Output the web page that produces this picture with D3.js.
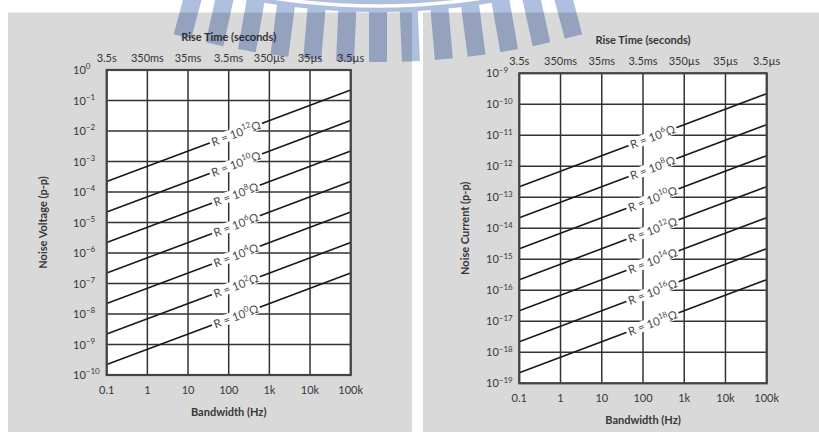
<!DOCTYPE html>
<html>
<head>
<meta charset="utf-8">
<script src="https://cdn.jsdelivr.net/npm/d3@7"></script>
<style>
  body { margin: 0; background: #ffffff; }
  svg { display: block; font-family: Lato, "Open Sans", sans-serif; }
</style>
</head>
<body>
<svg id="chart" width="819" height="432"></svg>
<script>
// Bandwidth decades shared by both panels (bottom axis) and matching rise times (top axis)
const bandwidthTicks = [0.1, 1, 10, 100, 1000, 10000, 100000];
const bandwidthLabels = ["0.1", "1", "10", "100", "1k", "10k", "100k"];
const riseTimeLabels = ["3.5s", "350ms", "35ms", "3.5ms", "350\u00b5s", "35\u00b5s", "3.5\u00b5s"];

// Left panel: peak-to-peak Johnson noise voltage
const voltageExponents = [0, -1, -2, -3, -4, -5, -6, -7, -8, -9, -10];
const voltageResistanceExp = [12, 10, 8, 6, 4, 2, 0];
const voltageAtLowBW = [2.2e-4, 2.2e-5, 2.2e-6, 2.2e-7, 2.2e-8, 2.2e-9, 2.2e-10];   // at 0.1 Hz
const voltageAtHighBW = [2.2e-1, 2.2e-2, 2.2e-3, 2.2e-4, 2.2e-5, 2.2e-6, 2.2e-7];   // at 100 kHz

// Right panel: peak-to-peak Johnson noise current
const currentExponents = [-9, -10, -11, -12, -13, -14, -15, -16, -17, -18, -19];
const currentResistanceExp = [6, 8, 10, 12, 14, 16, 18];
const currentAtLowBW = [2.2e-13, 2.2e-14, 2.2e-15, 2.2e-16, 2.2e-17, 2.2e-18, 2.2e-19];
const currentAtHighBW = [2.2e-10, 2.2e-11, 2.2e-12, 2.2e-13, 2.2e-14, 2.2e-15, 2.2e-16];

const svg = d3.select("#chart");
const textColor = "#363636";

// Grey panel backgrounds
svg.append("rect").attr("x", 8).attr("y", 12.5).attr("width", 404).attr("height", 420).attr("fill", "#d9d9d9");
svg.append("rect").attr("x", 423).attr("y", 12.5).attr("width", 396).attr("height", 420).attr("fill", "#d9d9d9");

function powerLabel(sel, exp, baseSize, supSize) {
  sel.append("tspan").text("10");
  sel.append("tspan").attr("dy", -baseSize * 0.42).attr("font-size", supSize)
    .text(exp < 0 ? "\u2212" + Math.abs(exp) : String(exp));
}

function drawPanel(cfg) {
  const g = svg.append("g");
  const x = d3.scaleLog().domain([0.1, 100000]).range([cfg.left, cfg.right]);
  const y = d3.scaleLog().domain([Math.pow(10, cfg.exps[cfg.exps.length - 1]), Math.pow(10, cfg.exps[0])])
    .range([cfg.bottom, cfg.top]);

  // plot area
  g.append("rect").attr("x", cfg.left).attr("y", cfg.top)
    .attr("width", cfg.right - cfg.left).attr("height", cfg.bottom - cfg.top).attr("fill", "#ffffff");

  // grid
  g.append("g").selectAll("line").data(bandwidthTicks).join("line")
    .attr("x1", d => x(d)).attr("x2", d => x(d)).attr("y1", cfg.top).attr("y2", cfg.bottom)
    .attr("stroke", "#333333").attr("stroke-width", 1.5);
  g.append("g").selectAll("line").data(cfg.exps).join("line")
    .attr("x1", cfg.left).attr("x2", cfg.right)
    .attr("y1", d => y(Math.pow(10, d))).attr("y2", d => y(Math.pow(10, d)))
    .attr("stroke", "#333333").attr("stroke-width", 1.5);

  // noise lines
  const line = d3.line().x(d => x(d[0])).y(d => y(d[1]));
  cfg.low.forEach((v, i) => {
    g.append("path").datum([[0.1, v], [100000, cfg.high[i]]])
      .attr("d", line).attr("fill", "none").attr("stroke", "#1a1a1a").attr("stroke-width", 1.6);
  });

  // line labels along each line
  cfg.low.forEach((v, i) => {
    const x0 = x(0.1), y0 = y(v), x1 = x(100000), y1 = y(cfg.high[i]);
    const slope = (y1 - y0) / (x1 - x0);
    const angle = Math.atan(slope) * 180 / Math.PI;
    const lx = x(cfg.labelBW);
    const ly = y0 + slope * (lx - x0);
    const lg = g.append("g").attr("transform", `translate(${lx},${ly}) rotate(${angle})`);
    const bg = lg.append("rect").attr("fill", "#ffffff");
    const t = lg.append("text").attr("text-anchor", "middle").attr("y", 4.5)
      .attr("font-size", 11.5).attr("fill", "#4a4a4a");
    t.append("tspan").text("R = 10");
    t.append("tspan").attr("dy", -5).attr("font-size", 8).text(String(cfg.rexp[i]));
    t.append("tspan").attr("dy", 5).text("\u03a9");
    const bb = t.node().getBBox();
    bg.attr("x", bb.x - 2).attr("y", -5.5).attr("width", bb.width + 4).attr("height", 11);
  });

  // frame
  g.append("rect").attr("x", cfg.left).attr("y", cfg.top)
    .attr("width", cfg.right - cfg.left).attr("height", cfg.bottom - cfg.top)
    .attr("fill", "none").attr("stroke", "#444444").attr("stroke-width", 2.2);

  // y tick labels (left-aligned column)
  cfg.exps.forEach(e => {
    const t = g.append("text").attr("x", cfg.tickX).attr("y", y(Math.pow(10, e)) + 4)
      .attr("text-anchor", "start").attr("font-size", 11).attr("fill", textColor);
    powerLabel(t, e, 11, 8);
  });

  // bottom tick labels
  g.append("g").selectAll("text").data(bandwidthTicks).join("text")
    .attr("x", d => x(d)).attr("y", cfg.bottom + 19).attr("text-anchor", "middle")
    .attr("font-size", 11).attr("fill", textColor)
    .text((d, i) => bandwidthLabels[i]);

  // top tick labels (rise time)
  g.append("g").selectAll("text").data(bandwidthTicks).join("text")
    .attr("x", d => x(d)).attr("y", cfg.top - 8).attr("text-anchor", "middle")
    .attr("font-size", 11).attr("fill", textColor)
    .text((d, i) => riseTimeLabels[i]);

  const midX = (cfg.left + cfg.right) / 2;
  g.append("text").attr("x", midX).attr("y", cfg.top - 29).attr("text-anchor", "middle")
    .attr("font-size", 11).attr("font-weight", "bold").attr("fill", textColor).text("Rise Time (seconds)");
  g.append("text").attr("x", midX).attr("y", cfg.bottom + 41).attr("text-anchor", "middle")
    .attr("font-size", 11).attr("font-weight", "bold").attr("fill", textColor).text("Bandwidth (Hz)");
  g.append("text").attr("transform", `translate(${cfg.titleX},${(cfg.top + cfg.bottom) / 2}) rotate(-90)`)
    .attr("text-anchor", "middle").attr("font-size", 11).attr("font-weight", "bold")
    .attr("fill", textColor).text(cfg.title);
}

drawPanel({
  left: 106.7, right: 350.7, top: 70, bottom: 375, tickX: 73,
  exps: voltageExponents, low: voltageAtLowBW, high: voltageAtHighBW,
  rexp: voltageResistanceExp, labelBW: 150, titleX: 47,
  title: "Noise Voltage (p-p)"
});
drawPanel({
  left: 519.3, right: 766.7, top: 73.3, bottom: 383.3, tickX: 486,
  exps: currentExponents, low: currentAtLowBW, high: currentAtHighBW,
  rexp: currentResistanceExp, labelBW: 170, titleX: 469,
  title: "Noise Current (p-p)"
});

// Faint blue emblem across the top edge of the page: a toothed ring
const mark = svg.append("g").style("mix-blend-mode", "multiply").attr("fill", "#aebfe0");
const ringCx = 378, ringCy = -700;
const ringArc = d3.arc();
// solid rim
mark.append("path").attr("transform", `translate(${ringCx},${ringCy}) rotate(180)`)
  .attr("d", ringArc({innerRadius: 660, outerRadius: 712, startAngle: -0.45, endAngle: 0.45}));
// thin white groove inside the rim
svg.append("path").attr("transform", `translate(${ringCx},${ringCy}) rotate(180)`)
  .attr("fill", "#ffffff")
  .attr("d", ringArc({innerRadius: 704, outerRadius: 707.5, startAngle: -0.22, endAngle: 0.22}));
// teeth
const toothStep = 32 / 740;
d3.range(-6, 7).forEach(k => {
  const a = k * toothStep;
  mark.append("rect")
    .attr("x", -9).attr("y", 705).attr("width", 18).attr("height", 57)
    .attr("transform", `translate(${ringCx},${ringCy}) rotate(${-a * 180 / Math.PI})`);
});
</script>
</body>
</html>
